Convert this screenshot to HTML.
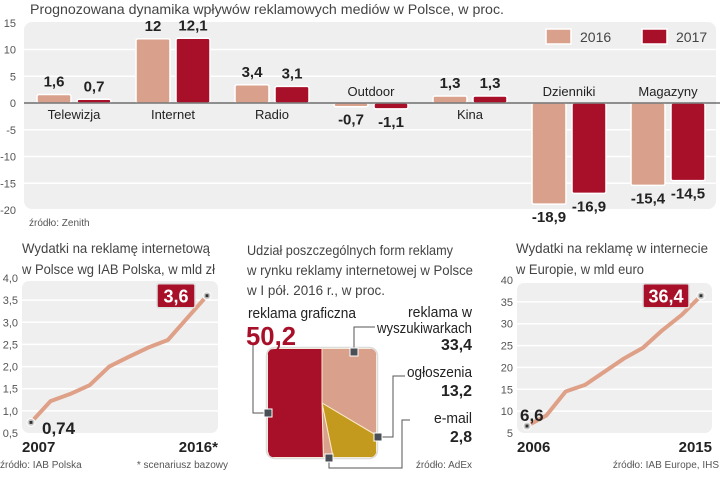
<!DOCTYPE html>
<html><head><meta charset="utf-8">
<style>
html,body{margin:0;padding:0;background:#fff;}
svg{display:block;font-family:"Liberation Sans Narrow","Liberation Sans",sans-serif;}
</style></head>
<body>
<svg id="root" width="720" height="491" viewBox="0 0 720 491" xmlns="http://www.w3.org/2000/svg"></svg>
<script>
// ---- top chart data
const topCategories = ["Telewizja","Internet","Radio","Outdoor","Kina","Dzienniki","Magazyny"];
const values2016 = [1.6, 12, 3.4, -0.7, 1.3, -18.9, -15.4];
const values2017 = [0.7, 12.1, 3.1, -1.1, 1.3, -16.9, -14.5];
const topTicks = [15,10,5,0,-5,-10,-15,-20];
// ---- bottom-left data
const plYears = [2007,2008,2009,2010,2011,2012,2013,2014,2015,2016];
const plValues = [0.74,1.22,1.38,1.58,2.0,2.22,2.43,2.6,3.1,3.6];
const plTicks = [4.0,3.5,3.0,2.5,2.0,1.5,1.0,0.5];
// ---- bottom-right data
const euYears = [2006,2007,2008,2009,2010,2011,2012,2013,2014,2015];
const euValues = [6.6,9,14.5,16,19,22,24.5,28.5,32,36.4];
const euTicks = [40,35,30,25,20,15,10,5];
// ---- pie data (clockwise from top)
const pieLabels = ["reklama w wyszukiwarkach","ogłoszenia","e-mail","reklama graficzna"];
const pieValues = [33.4,13.2,2.8,50.2];

const NS="http://www.w3.org/2000/svg";
const root=document.getElementById('root');
function el(tag,attrs,parent,text){const e=document.createElementNS(NS,tag);for(const k in attrs)e.setAttribute(k,attrs[k]);if(text!==undefined)e.textContent=text;(parent||root).appendChild(e);return e;}
const C16="#d9a08c",C17="#a8102a",LINE="#dfa088",BG="#efefef";
function fmt(v,d){return (d!==undefined?v.toFixed(d):String(v)).replace('.',',');}

// ================= TOP CHART
let t=el('text',{x:30,y:14,'font-size':14,fill:'#444',textLength:474,lengthAdjust:'spacingAndGlyphs'},root,'Prognozowana dynamika wpływów reklamowych mediów w Polsce, w proc.');


const yTop=v=>103-v*(107/20);
let p=el('rect',{x:24,y:22,width:692,height:187,rx:8,fill:BG});

topTicks.forEach(v=>{
  if(v!==0&&v!==-20&&v!==15){let g=el('line',{x1:24,x2:716,y1:yTop(v),y2:yTop(v),stroke:'#fff','stroke-width':1.5});}
  let tl=el('text',{x:16,y:yTop(v)+4,'font-size':11,fill:'#555','text-anchor':'end'},root,String(v));
  
});
const gx=i=>37+i*99;
topCategories.forEach((c,i)=>{
  [[values2016[i],C16,0],[values2017[i],C17,40]].forEach(([v,col,off])=>{
    const x=gx(i)+off,y0=yTop(0),y1=yTop(v);
    let b=el('rect',{x:x,y:Math.min(y0,y1),width:34,height:Math.max(2,Math.abs(y1-y0)),rx:2,fill:col,stroke:'#fff','stroke-width':1.5});
    
    let lt=el('text',{x:x+17,y:v>=0?y1-8:y1+18,'font-size':15,'font-weight':'bold',fill:'#222','text-anchor':'middle'},root,fmt(v));
    
  });
  const neg=values2016[i]<0;
  let cl=el('text',{x:gx(i)+37,y:neg?96:119,'font-size':13,fill:'#222','text-anchor':'middle'},root,c);
  
});
let zl=el('line',{x1:24,x2:720,y1:yTop(0),y2:yTop(0),stroke:'#555','stroke-width':1.2});

[[546,C16,'2016'],[642,C17,'2017']].forEach(([x,col,lab])=>{
  let r=el('rect',{x:x,y:29,width:25,height:15,fill:col,stroke:'#fff','stroke-width':1.5});
  
  let lt=el('text',{x:x+34,y:42,'font-size':14,fill:'#444'},root,lab);
  
});
t=el('text',{x:29,y:226,'font-size':10,fill:'#555'},root,'źródło: Zenith');


// ================= LINE CHARTS
function lineChart(o){
  o.title.forEach((s,i)=>{let tt=el('text',{x:o.tx,y:o.ty+i*21,'font-size':14,fill:'#444',textLength:o.tl[i],lengthAdjust:'spacingAndGlyphs'},root,s);});
  const ys=v=>o.py0+(v-o.vmin)/(o.vmax-o.vmin)*(o.py1-o.py0);
  let pn=el('rect',{x:o.px0,y:o.py1+3,width:o.px1-o.px0,height:o.py0-o.py1-3,rx:7,fill:BG});
  
  o.ticks.forEach(v=>{
    if(v!==o.vmin&&v!==o.vmax){let g=el('line',{x1:o.px0,x2:o.px1,y1:ys(v),y2:ys(v),stroke:'#fff','stroke-width':1.5});}
    let tl=el('text',{x:o.px0-4,y:ys(v)+4,'font-size':11,fill:'#555','text-anchor':'end'},root,o.dec?fmt(v,1):String(v));
    
  });
  const n=o.years.length,xs=i=>o.lx0+i*(o.lx1-o.lx0)/(n-1);
  let pts=o.vals.map((v,i)=>xs(i)+','+ys(v)).join(' ');
  let pl=el('polyline',{points:pts,fill:'none',stroke:LINE,'stroke-width':4,'stroke-linejoin':'round'});
  
  [0,n-1].forEach(i=>{
    let c=el('circle',{cx:xs(i),cy:ys(o.vals[i]),r:4,fill:'#ccc',stroke:'#fff','stroke-width':1});
    
    let d=el('rect',{x:xs(i)-1.5,y:ys(o.vals[i])-1.5,width:3,height:3,fill:'#333'});
    
  });
  let fv=el('text',{x:o.fx,y:o.fy,'font-size':17,'font-weight':'bold',fill:'#222'},root,fmt(o.vals[0]));
  
  const lv=o.vals[n-1],bx=xs(n-1)-12-o.bw,by=ys(lv)-12;
  let bb=el('rect',{x:bx,y:by,width:o.bw,height:24,rx:2,fill:C17,stroke:'#ddd','stroke-width':1.5});
  
  let bt=el('text',{x:bx+o.bw/2,y:by+19,'font-size':18,'font-weight':'bold',fill:'#fff','text-anchor':'middle'},root,fmt(lv));
  
  let y0=el('text',{x:o.px0,y:452,'font-size':15,'font-weight':'bold',fill:'#222'},root,String(o.years[0]));
  
  let y1=el('text',{x:o.px1,y:452,'font-size':15,'font-weight':'bold',fill:'#222','text-anchor':'end'},root,o.years[n-1]+o.star);
  
}
lineChart({id:'poland',title:['Wydatki na reklamę internetową','w Polsce wg IAB Polska, w mld zł'],tx:22,ty:253,tl:[188,193],
  px0:22,px1:218,py0:433,py1:278,vmin:0.5,vmax:4.0,ticks:plTicks,dec:true,years:plYears,vals:plValues,
  lx0:31,lx1:207,fx:42,fy:434,bw:38,star:'*'});
lineChart({id:'europe',title:['Wydatki na reklamę w internecie','w Europie, w mld euro'],tx:516,ty:253,tl:[192,128],
  px0:517,px1:712,py0:433,py1:280,vmin:5,vmax:40,ticks:euTicks,dec:false,years:euYears,vals:euValues,
  lx0:527,lx1:701,fx:520,fy:421,bw:46,star:''});
t=el('text',{x:0,y:468,'font-size':10,fill:'#555'},root,'źródło: IAB Polska');
t=el('text',{x:228,y:468,'font-size':10,fill:'#555','text-anchor':'end'},root,'* scenariusz bazowy');
t=el('text',{x:719,y:468,'font-size':10,fill:'#555','text-anchor':'end'},root,'źródło: IAB Europe, IHS');

// ================= SQUARE PIE
[['Udział poszczególnych form reklamy',206],['w rynku reklamy internetowej w Polsce',226],['w I pół. 2016 r., w proc.',138]].forEach(([s,w],i)=>{
  let tt=el('text',{x:247,y:255+i*20,'font-size':14,fill:'#444',textLength:w,lengthAdjust:'spacingAndGlyphs'},root,s);
});
const cx=322,cy=403,h=54.5;
const pieColors=[C16,'#c49a1e',C16,C17];
function ray(a){const dx=Math.sin(a),dy=-Math.cos(a);const s=h/Math.max(Math.abs(dx),Math.abs(dy));return [cx+dx*s,cy+dy*s];}
const clip=el('clipPath',{id:'sq'});el('rect',{x:cx-h,y:cy-h,width:2*h,height:2*h,rx:7},clip);
let sq=el('rect',{x:cx-h-1,y:cy-h-1,width:2*h+2,height:2*h+2,rx:8,fill:'#fff',stroke:'#ddd','stroke-width':1.5});

const tot=pieValues.reduce((a,b)=>a+b,0);let acc=0;
pieValues.forEach((v,i)=>{
  const a0=acc/tot*2*Math.PI;acc+=v;const a1=acc/tot*2*Math.PI;
  let pts=[[cx,cy]];const N=40;for(let k=0;k<=N;k++)pts.push(ray(a0+(a1-a0)*k/N));
  let sl=el('polygon',{points:pts.map(q=>q.join(',')).join(' '),fill:pieColors[i],stroke:'#fbe9c8','stroke-width':1,'clip-path':'url(#sq)'});
  
});
[[[354,352],[354,327],[375,327]],[[378,437],[393,437],[393,376],[405,376]],[[329,458],[329,468],[402,468],[402,420],[410,420]],[[268,413],[253,413],[253,345]]].forEach(pl=>{
  let l=el('polyline',{points:pl.map(q=>q.join(',')).join(' '),fill:'none',stroke:'#555','stroke-width':1});
  
  let m=el('rect',{x:pl[0][0]-4,y:pl[0][1]-4,width:8,height:8,fill:'#4a4f55',stroke:'#fff','stroke-width':1});
  
});
function tx(x,y,s,sz,b,col,anc,name,tl){const a={x:x,y:y,'font-size':sz,'font-weight':b?'bold':'normal',fill:col,'text-anchor':anc};if(tl){a.textLength=tl;a.lengthAdjust='spacingAndGlyphs';}let e=el('text',a,root,s);}
tx(248,318,'reklama graficzna',15,false,'#222','start','label-graficzna',108);
tx(246,345,fmt(pieValues[3]),26,true,C17,'start','value-graficzna',50);
tx(472,317,'reklama w',15,false,'#222','end','label-wyszukiwarki',64);
tx(472,333,'wyszukiwarkach',15,false,'#222','end','label-wyszukiwarki-2',95);
tx(472,350,fmt(pieValues[0]),16,true,'#222','end','value-wyszukiwarki',31);
tx(472,377,'ogłoszenia',15,false,'#222','end','label-ogloszenia',65);
tx(472,396,fmt(pieValues[1]),16,true,'#222','end','value-ogloszenia',31);
tx(472,423,'e-mail',15,false,'#222','end','label-email',38);
tx(472,442,fmt(pieValues[2]),16,true,'#222','end','value-email',22);
tx(472,468,'źródło: AdEx',10,false,'#555','end','pie-source');
</script>
</body></html>
